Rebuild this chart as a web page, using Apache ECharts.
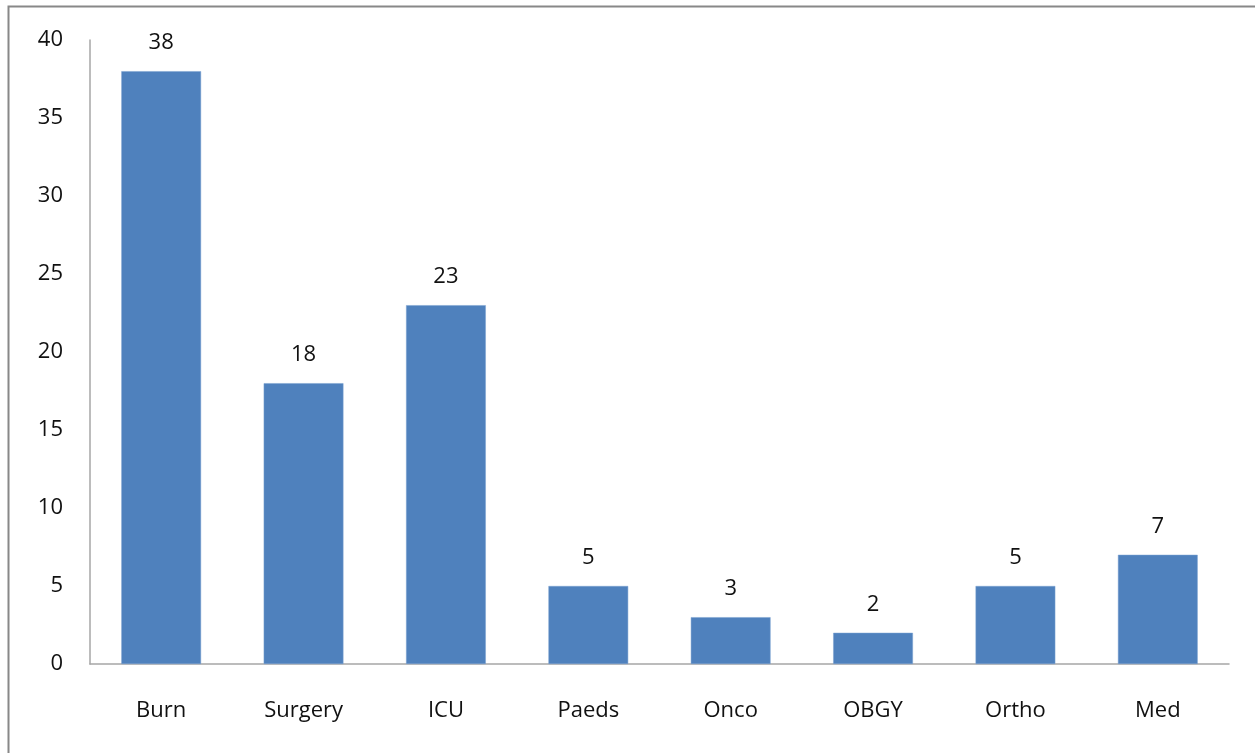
<!DOCTYPE html>
<html><head><meta charset="utf-8">
<script src="https://cdn.jsdelivr.net/npm/echarts@6/dist/echarts.min.js"></script>
<style>html,body{margin:0;padding:0;background:#fff;}#c{width:1255px;height:753px;}</style>
</head><body><div id="c"></div>
<script>
const categories = ['Burn','Surgery','ICU','Paeds','Onco','OBGY','Ortho','Med'];
const values = [38,18,23,5,3,2,5,7];
const yTicks = {min:0, max:40, interval:5};
const chart = echarts.init(document.getElementById('c'));
const font = '"Open Sans", "DejaVu Sans", sans-serif';
chart.setOption({
  animation:false,
  graphic:[{type:'rect', shape:{x:8.5,y:6.5,width:1400,height:900}, style:{fill:'none',stroke:'#888',lineWidth:2}}],
  grid:{left:90,right:26,top:40,bottom:89,containLabel:false},
  xAxis:{type:'category',data:categories,
    axisLine:{lineStyle:{color:'#a6a6a6',width:1.5}},axisTick:{show:false},
    axisLabel:{color:'#111',fontSize:22,fontFamily:font,margin:36}},
  yAxis:{type:'value',min:yTicks.min,max:yTicks.max,interval:yTicks.interval,
    axisLine:{show:true,lineStyle:{color:'#a6a6a6',width:1.5}},axisTick:{show:false},
    splitLine:{show:false},
    axisLabel:{color:'#111',fontSize:22,fontFamily:font,margin:27}},
  series:[{type:'bar',data:values,barWidth:'56%',
    itemStyle:{color:'#4F81BD',borderColor:'#7aa0d0',borderWidth:0.5},
    label:{show:true,position:'top',distance:17,color:'#111',fontSize:22,fontFamily:font}}]
});
</script></body></html>
